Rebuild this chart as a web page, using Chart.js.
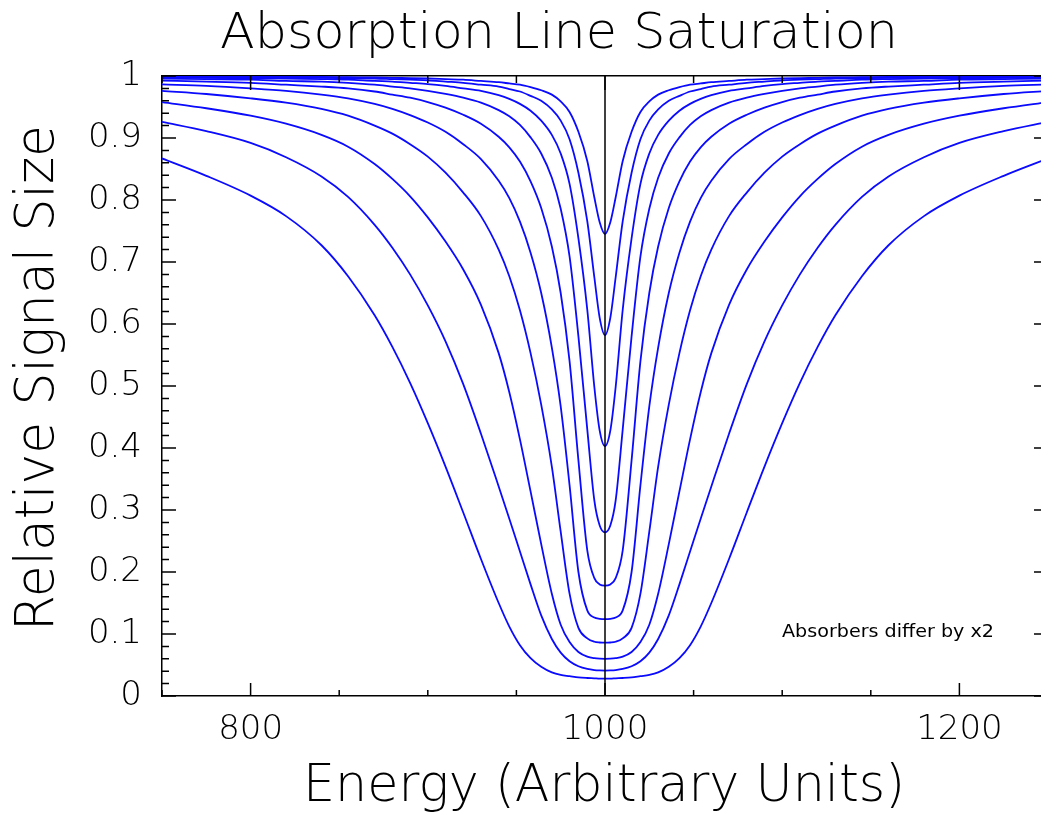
<!DOCTYPE html>
<html>
<head>
<meta charset="utf-8">
<script src="https://cdn.jsdelivr.net/npm/chart.js@4.4.1/dist/chart.umd.min.js"></script>
<style>
  html, body { margin: 0; padding: 0; background: #fff; }
  #wrap { width: 1041px; height: 814px; overflow: hidden; }
</style>
</head>
<body>
<div id="wrap"><canvas id="chart_saturation" width="1050" height="814"></canvas></div>
<script>
// energy grid the curves were read at
const energies = [750, 775, 800, 820, 840, 855, 870, 880, 890, 900, 910, 920, 930, 940, 946, 952, 958, 964, 970, 975, 980, 985, 990, 994, 997,
  1000,
  1003, 1006, 1010, 1015, 1020, 1025, 1030, 1036, 1042, 1048, 1054, 1060, 1070, 1080, 1090, 1100, 1110, 1120, 1130, 1145, 1160, 1180, 1200, 1225, 1250];

// relative signal, weakest absorber first (each one x2 the previous)
const absorber1 = [0.9993,0.9991,0.9989,0.9987,0.9984,0.998,0.9976,0.997,0.9966,0.996,0.995,0.994,0.992,0.990,0.988,0.986,0.982,0.977,0.970,0.959,0.942,0.910,0.863,0.804,0.764,
  0.745,
  0.764,0.804,0.863,0.910,0.942,0.959,0.970,0.977,0.982,0.986,0.988,0.990,0.992,0.994,0.995,0.996,0.9966,0.997,0.9976,0.998,0.9984,0.9987,0.9989,0.9991,0.9993];
const absorber2 = [0.999,0.9985,0.998,0.9975,0.997,0.9965,0.996,0.995,0.994,0.993,0.991,0.989,0.986,0.983,0.979,0.975,0.968,0.960,0.946,0.928,0.898,0.844,0.766,0.675,0.610,
  0.582,
  0.610,0.675,0.766,0.844,0.898,0.928,0.946,0.960,0.968,0.975,0.979,0.983,0.986,0.989,0.991,0.993,0.994,0.995,0.996,0.9965,0.997,0.9975,0.998,0.9985,0.999];
const absorber3 = [0.998,0.997,0.9965,0.996,0.995,0.994,0.992,0.991,0.989,0.987,0.984,0.980,0.976,0.969,0.963,0.955,0.944,0.928,0.905,0.875,0.826,0.738,0.623,0.498,0.428,
  0.403,
  0.428,0.498,0.623,0.738,0.826,0.875,0.905,0.928,0.944,0.955,0.963,0.969,0.976,0.980,0.984,0.987,0.989,0.991,0.992,0.994,0.995,0.996,0.9965,0.997,0.998];
const absorber4 = [0.996,0.995,0.994,0.992,0.991,0.989,0.986,0.983,0.980,0.976,0.971,0.965,0.957,0.945,0.935,0.921,0.901,0.875,0.836,0.786,0.709,0.580,0.430,0.315,0.275,
  0.264,
  0.275,0.315,0.430,0.580,0.709,0.786,0.836,0.875,0.901,0.921,0.935,0.945,0.957,0.965,0.971,0.976,0.980,0.983,0.986,0.989,0.991,0.992,0.994,0.995,0.996];
const absorber5 = [0.9925,0.991,0.989,0.986,0.983,0.980,0.975,0.970,0.965,0.958,0.949,0.9375,0.923,0.902,0.885,0.862,0.830,0.787,0.725,0.650,0.540,0.380,0.235,0.190,0.180,
  0.178,
  0.180,0.190,0.235,0.380,0.540,0.650,0.725,0.787,0.830,0.862,0.885,0.902,0.923,0.9375,0.949,0.958,0.965,0.970,0.975,0.980,0.983,0.986,0.989,0.991,0.9925];
const absorber6 = [0.9865,0.984,0.980,0.976,0.970,0.964,0.955,0.947,0.937,0.925,0.910,0.890,0.866,0.831,0.803,0.765,0.715,0.650,0.562,0.467,0.340,0.200,0.138,0.1265,0.1245,
  0.124,
  0.1245,0.1265,0.138,0.200,0.340,0.467,0.562,0.650,0.715,0.765,0.803,0.831,0.866,0.890,0.910,0.925,0.937,0.947,0.955,0.964,0.970,0.976,0.980,0.984,0.9865];
const absorber7 = [0.976,0.971,0.964,0.957,0.947,0.936,0.920,0.907,0.890,0.870,0.844,0.812,0.774,0.720,0.677,0.622,0.553,0.470,0.370,0.265,0.165,0.110,0.093,0.0875,0.0863,
  0.086,
  0.0863,0.0875,0.093,0.110,0.165,0.265,0.370,0.470,0.553,0.622,0.677,0.720,0.774,0.812,0.844,0.870,0.890,0.907,0.920,0.936,0.947,0.957,0.964,0.971,0.976];
const absorber8 = [0.958,0.948,0.936,0.923,0.905,0.886,0.858,0.834,0.806,0.772,0.733,0.688,0.631,0.553,0.490,0.414,0.330,0.245,0.165,0.115,0.087,0.071,0.0635,0.061,0.0602,
  0.060,
  0.0602,0.061,0.0635,0.071,0.087,0.115,0.165,0.245,0.330,0.414,0.490,0.553,0.631,0.688,0.733,0.772,0.806,0.834,0.858,0.886,0.905,0.923,0.936,0.948,0.958];
const absorber9 = [0.926,0.911,0.892,0.869,0.838,0.805,0.760,0.723,0.680,0.630,0.572,0.503,0.423,0.338,0.286,0.233,0.180,0.130,0.092,0.070,0.056,0.048,0.0436,0.0418,0.0412,
  0.041,
  0.0412,0.0418,0.0436,0.048,0.056,0.070,0.092,0.130,0.180,0.233,0.286,0.338,0.423,0.503,0.572,0.630,0.680,0.723,0.760,0.805,0.838,0.869,0.892,0.911,0.926];
const absorber10 = [0.867,0.839,0.807,0.774,0.727,0.677,0.614,0.563,0.505,0.440,0.370,0.296,0.221,0.150,0.112,0.082,0.061,0.047,0.038,0.034,0.032,0.030,0.029,0.0285,0.028,
  0.028,
  0.028,0.0285,0.029,0.030,0.032,0.034,0.038,0.047,0.061,0.082,0.112,0.150,0.221,0.296,0.370,0.440,0.505,0.563,0.614,0.677,0.727,0.774,0.807,0.839,0.867];

const absorbers = [absorber1, absorber2, absorber3, absorber4, absorber5, absorber6, absorber7, absorber8, absorber9, absorber10];

const lineCenter = 1000;
const xLabelTicks = [800, 1000, 1200];
const xTickValues = [750, 800, 850, 900, 950, 1000, 1050, 1100, 1150, 1200, 1250];

const FONT = '"DejaVu Sans", "Liberation Sans", sans-serif';

function fitText(ctx, text, x, y, width, size, weight, rotate) {
  ctx.save();
  ctx.font = weight + ' ' + size + 'px ' + FONT;
  const w = ctx.measureText(text).width;
  ctx.translate(x, y);
  if (rotate) ctx.rotate(-Math.PI / 2);
  ctx.scale(width / w, 1);
  ctx.textAlign = 'center';
  ctx.textBaseline = 'alphabetic';
  ctx.fillStyle = '#000';
  ctx.fillText(text, 0, 0);
  ctx.restore();
}

// IDL style inward ticks on all four sides
const inwardTicks = {
  id: 'inwardTicks',
  afterDatasetsDraw(chart) {
    const ctx = chart.ctx;
    const a = chart.chartArea;
    const x = chart.scales.x;
    const y = chart.scales.y;
    ctx.save();
    ctx.strokeStyle = '#000';
    ctx.lineWidth = 1.5;
    ctx.beginPath();
    xTickValues.forEach(v => {
      const px = x.getPixelForValue(v);
      const major = xLabelTicks.includes(v);
      ctx.moveTo(px, a.bottom);
      ctx.lineTo(px, a.bottom - (major ? 13 : 6));
      ctx.moveTo(px, a.top);
      ctx.lineTo(px, a.top + (major ? 14 : 7));
    });
    for (let i = 0; i <= 50; i++) {
      const py = y.getPixelForValue(i / 50);
      const len = i % 5 === 0 ? 14 : 7;
      ctx.moveTo(a.left, py);
      ctx.lineTo(a.left + len, py);
      ctx.moveTo(a.right, py);
      ctx.lineTo(a.right - len, py);
    }
    ctx.stroke();
    ctx.restore();
  }
};

const titles = {
  id: 'titles',
  afterDraw(chart) {
    const ctx = chart.ctx;
    fitText(ctx, 'Absorption Line Saturation', 559, 48, 678, 50, 200, false);
    fitText(ctx, 'Energy (Arbitrary Units)', 604, 801, 602, 51, 200, false);
    fitText(ctx, 'Relative Signal Size', 53, 378, 506, 54, 200, true);
    fitText(ctx, 'Absorbers differ by x2', 888, 637, 212, 18, 400, false);
  }
};

const datasets = [{
  data: [{x: lineCenter, y: 0}, {x: lineCenter, y: 1}],
  borderColor: '#000',
  borderWidth: 1.5,
  pointRadius: 0
}];
absorbers.forEach(series => {
  datasets.push({
    data: energies.map((e, i) => ({x: e, y: series[i]})),
    borderColor: 'rgb(10,10,255)',
    borderWidth: 1.8,
    pointRadius: 0,
    cubicInterpolationMode: 'monotone'
  });
});

const tickFont = { family: FONT, size: 34, weight: '200' };

new Chart(document.getElementById('chart_saturation'), {
  type: 'line',
  data: { datasets: datasets },
  options: {
    responsive: false,
    animation: false,
    layout: { padding: 0 },
    plugins: { legend: { display: false }, tooltip: { enabled: false } },
    scales: {
      x: {
        type: 'linear', position: 'bottom', min: 750, max: 1250,
        afterFit: s => { s.height = 118; },
        afterBuildTicks: s => { s.ticks = xLabelTicks.map(v => ({ value: v })); },
        ticks: { font: tickFont, color: '#000', padding: 14, maxRotation: 0, callback: v => String(v) },
        grid: { display: false, drawTicks: false },
        border: { display: true, color: '#000', width: 1.5 }
      },
      x2: {
        type: 'linear', position: 'top', min: 750, max: 1250,
        afterFit: s => { s.height = 76; },
        ticks: { display: false },
        grid: { display: false, drawTicks: false },
        border: { display: true, color: '#000', width: 1.5 }
      },
      y: {
        type: 'linear', position: 'left', min: 0, max: 1,
        afterFit: s => { s.width = 162; },
        ticks: { font: tickFont, color: '#000', stepSize: 0.1, padding: 20, callback: v => String(Math.round(v * 10) / 10) },
        grid: { display: false, drawTicks: false },
        border: { display: true, color: '#000', width: 1.5 }
      },
      y2: {
        type: 'linear', position: 'right', min: 0, max: 1,
        afterFit: s => { s.width = 2; },
        ticks: { display: false },
        grid: { display: false, drawTicks: false },
        border: { display: true, color: '#000', width: 1.5 }
      }
    }
  },
  plugins: [inwardTicks, titles]
});
</script>
</body>
</html>
